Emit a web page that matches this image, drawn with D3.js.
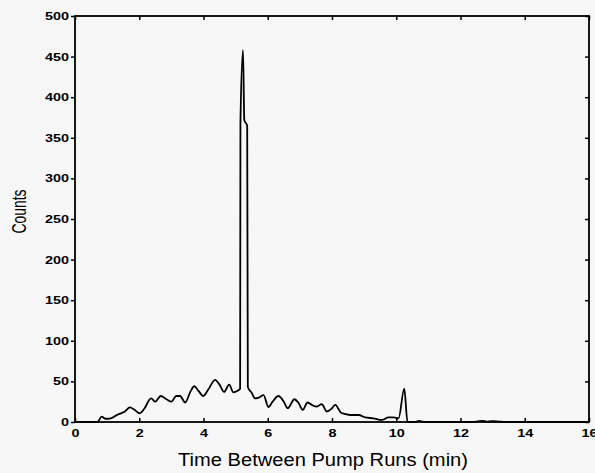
<!DOCTYPE html>
<html><head><meta charset="utf-8">
<script src="https://cdn.jsdelivr.net/npm/d3@7"></script>
<style>html,body{margin:0;padding:0;background:#f7f7f7;}svg{display:block;}</style>
</head><body>
<svg id="c" width="595" height="473"></svg>
<script>
const times = [0,0.65,0.7,0.83,0.95,1.05,1.2,1.3,1.45,1.55,1.71,1.85,2.02,2.15,2.37,2.5,2.67,2.85,3.0,3.15,3.27,3.43,3.6,3.71,3.85,3.99,4.15,4.36,4.5,4.64,4.8,4.93,5.09,5.14,5.15,5.23,5.27,5.36,5.38,5.5,5.6,5.72,5.87,6.02,6.15,6.33,6.5,6.62,6.83,6.95,7.09,7.24,7.42,7.53,7.68,7.84,8.0,8.1,8.28,8.4,8.57,8.83,9.03,9.29,9.55,9.76,9.92,10.07,10.25,10.35,10.6,10.69,10.8,11.0,12.3,12.5,12.7,12.8,13.0,13.2,13.4,14,16];
const counts = [0,0,0,6.5,4,4,6,8.5,11,13,18,15,10.7,16,29,25,32,28,25,32,32,24,38,44,38,32,40,52,46,37,46,36.6,39,41,368,458,372,365,43,36,29,30,33,18.5,25,32,25,17,28,24,15,24,20,19,22,13,17,21,11.5,10,8.6,8.6,5.7,4.5,2.5,5.7,5.7,4.5,41,0,0,1.5,0.5,0,0,0.5,1.5,0.5,1,0.5,0,0,0];
const xTicks = [0,2,4,6,8,10,12,14,16];
const yTicks = [0,50,100,150,200,250,300,350,400,450,500];
const xLabel = "Time Between Pump Runs (min)";
const yLabel = "Counts";

const svg = d3.select("#c");
const L = 75, R = 589, T = 16, B = 422;
const x = d3.scaleLinear().domain([0,16]).range([L,R]);
const y = d3.scaleLinear().domain([0,500]).range([B,T]);

// data line
const line = d3.line().x((d,i)=>x(times[i])).y((d,i)=>y(counts[i])).curve(d3.curveMonotoneX);
svg.append("path").datum(counts).attr("d", line)
  .attr("fill","none").attr("stroke","#000").attr("stroke-width",1.8).attr("stroke-linejoin","round");

// frame
svg.append("rect").attr("x",L).attr("y",T).attr("width",R-L).attr("height",B-T)
  .attr("fill","none").attr("stroke","#000").attr("stroke-width",1.8);

const font = "'Liberation Sans', Arial, Helvetica, sans-serif";
const xb = svg.append("g").attr("transform",`translate(0,${B})`)
  .call(d3.axisBottom(x).tickValues(xTicks).tickSize(-4).tickPadding(7).tickFormat(d3.format("d")));
const xt = svg.append("g").attr("transform",`translate(0,${T})`)
  .call(d3.axisTop(x).tickValues(xTicks).tickSize(-4).tickFormat(""));
const yl = svg.append("g").attr("transform",`translate(${L},0)`)
  .call(d3.axisLeft(y).tickValues(yTicks).tickSize(4).tickPadding(2).tickFormat(d3.format("d")));
const yr = svg.append("g").attr("transform",`translate(${R},0)`)
  .call(d3.axisRight(y).tickValues(yTicks).tickSize(-4).tickFormat(""));
[xb,xt,yl,yr].forEach(g=>{
  g.select(".domain").remove();
  g.selectAll(".tick line").attr("stroke","#000").attr("stroke-width",1.5);
  g.selectAll("text").attr("font-family",font).attr("font-weight","bold").attr("font-size",11).attr("fill","#000");
});
xb.selectAll("text").attr("dy","0.71em").each(function(d){ d3.select(this).attr("textLength", String(d).length*8).attr("lengthAdjust","spacingAndGlyphs"); });
yl.selectAll("text").each(function(d){ d3.select(this).attr("textLength", String(d).length*8).attr("lengthAdjust","spacingAndGlyphs"); });

svg.append("text").attr("x",323).attr("y",466).attr("text-anchor","middle")
  .attr("font-family",font).attr("font-size",17.5).attr("fill","#000")
  .attr("textLength",290).attr("lengthAdjust","spacingAndGlyphs").text(xLabel);
svg.append("text").attr("transform","translate(26,211.5) rotate(-90)").attr("text-anchor","middle")
  .attr("font-family",font).attr("font-size",21).attr("fill","#000")
  .attr("textLength",44).attr("lengthAdjust","spacingAndGlyphs").text(yLabel);
</script>
</body></html>
